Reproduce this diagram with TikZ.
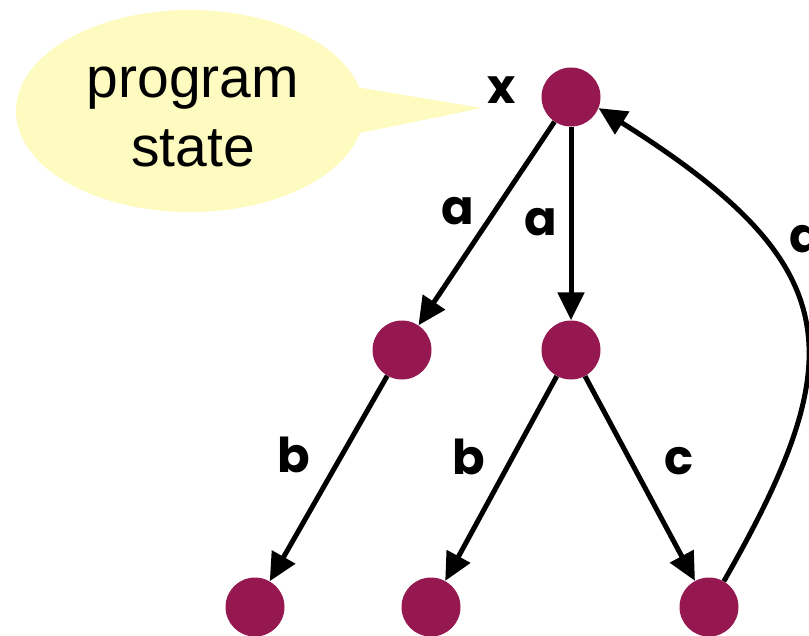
\documentclass[tikz,border=0pt]{standalone}
\usepackage{fontspec}
\setmainfont{Liberation Sans}
\newfontfamily\lblfont{Poppins}
\usetikzlibrary{arrows.meta,shapes.geometric}
\definecolor{statecol}{RGB}{150,24,80}
\definecolor{bubblecol}{RGB}{253,251,191}
\begin{document}
\begin{tikzpicture}[x=1pt,y=-1pt,
  st/.style={circle,fill=statecol,minimum size=59pt,inner sep=0pt},
  edge/.style={line width=5pt,-{Triangle[length=28pt,width=26pt]}},
  lbl/.style={font=\lblfont\bfseries\fontsize{48}{48}\selectfont,inner sep=0pt}]
\useasboundingbox (0,0) rectangle (809,635);
% speech bubble
\fill[bubblecol] (190,111) ellipse [x radius=174, y radius=101];
\fill[bubblecol] (350,86) -- (482,108) -- (350,135) -- cycle;
\node[align=center,inner sep=0pt,font=\fontsize{57}{69}\selectfont] (ps) at (193,117) {program\\state};
% states
\node[st] (top) at (571,97) {};
\node[st] (ml) at (402,350) {};
\node[st] (mr) at (571,350) {};
\node[st] (bl) at (255,607) {};
\node[st] (bm) at (431,607) {};
\node[st] (br) at (709,607) {};
% edges
\draw[edge] (top) -- (ml);
\draw[edge] (top) -- (mr);
\draw[edge] (ml) -- (bl);
\draw[edge] (mr) -- (bm);
\draw[edge] (mr) -- (br);
\draw[edge] (br.60) .. controls (852,357) and (849.5,266) .. (top.-22);
% labels
\node[lbl] (lx) at (502,90) {x};
\node[lbl] (la1) at (458,211) {a};
\node[lbl] (la2) at (541,222) {a};
\node[lbl] (la3) at (806,239) {a};
\node[lbl] (lb1) at (294,455) {b};
\node[lbl] (lb2) at (469,457) {b};
\node[lbl] (lc) at (679,461) {c};
\end{tikzpicture}
\end{document}
